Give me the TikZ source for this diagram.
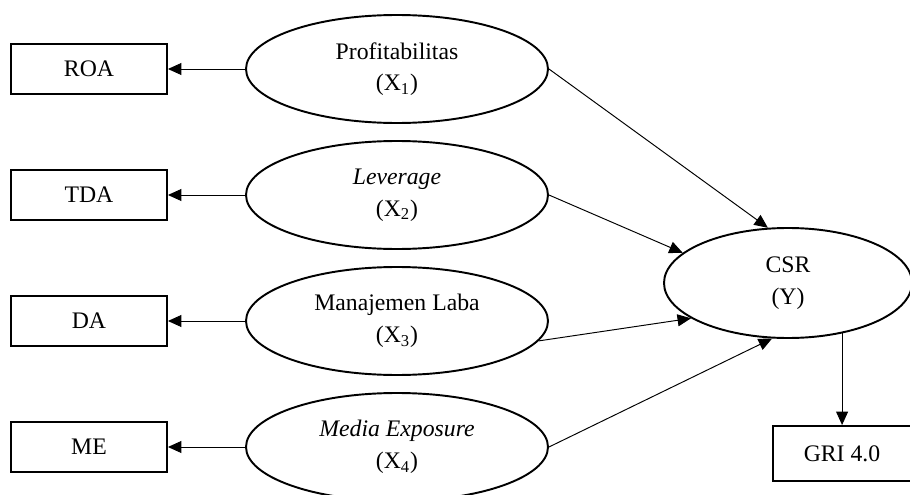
\documentclass[tikz,border=0pt]{standalone}
\usepackage{fontspec}
\setmainfont{Liberation Serif}
\usetikzlibrary{arrows.meta,shapes.geometric,positioning}

\begin{document}
\begin{tikzpicture}[align=center,node distance=2.52cm,font=\fontsize{13.5}{18}\selectfont]
\tikzstyle{latent}=[ellipse,draw=black,line width=1.1pt,minimum width=6.04cm,minimum height=2.16cm,inner sep=0pt]
\tikzstyle{indicator}=[rectangle,draw=black,line width=1.1pt,minimum width=3.12cm,minimum height=1cm]
\tikzstyle{effect}=[-{Triangle[length=0.27cm,width=0.24cm]},line width=0.55pt]

\useasboundingbox (0,0) rectangle (18.2,-9.9);

\node[latent] (x1) at (7.94,-1.38) {Profitabilitas\\(X\textsubscript{1})};
\node[latent] (x2) [below of = x1] {\textit{Leverage}\\(X\textsubscript{2})};
\node[latent] (x3) [below of = x2] {Manajemen Laba\\(X\textsubscript{3})};
\node[latent] (x4) [below of = x3] {\textit{Media Exposure}\\(X\textsubscript{4})};
\node[latent,minimum width=4.96cm,minimum height=2.2cm] (y) at (15.76,-5.66) {CSR\\(Y)};

\node[indicator] (roa) [left of = x1, node distance=6.16cm] {ROA};
\node[indicator] (tda) [left of = x2, node distance=6.16cm] {TDA};
\node[indicator] (da) [left of = x3, node distance=6.16cm] {DA};
\node[indicator] (me) [left of = x4, node distance=6.16cm] {ME};
\node[indicator,minimum width=2.76cm,minimum height=1.1cm] (gri) at (16.84,-9.07) {GRI 4.0};

% indicators
\draw[effect] (x1) -- (roa);
\draw[effect] (x2) -- (tda);
\draw[effect] (x3) -- (da);
\draw[effect] (x4) -- (me);

% paths to CSR
\draw[effect] (x1.east) -- (y.110);
\draw[effect] (x2.east) -- (y.164);
\draw[effect] (x3.-8) -- (y.200);
\draw[effect] (x4.east) -- (y.254);
\draw[effect] (y.-43) -- (y.-43 |- gri.north);
\end{tikzpicture}
\end{document}
